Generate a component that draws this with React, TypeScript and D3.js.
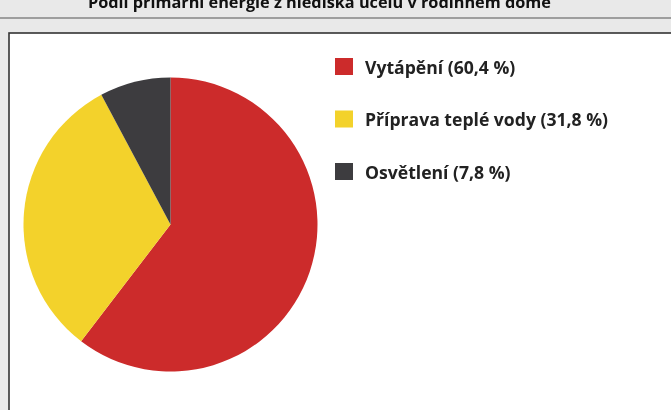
import React from "react";
import * as d3 from "d3";

const categories = ["Vytápění (60,4 %)", "Příprava teplé vody (31,8 %)", "Osvětlení (7,8 %)"];
const values = [60.4, 31.8, 7.8];
const colors = ["#cc2b2b", "#f3d22b", "#3d3c3f"];
const title = "Podíl primární energie z hlediska účelu v rodinném domě";

export default function App() {
  const W = 671, H = 410;
  const cx = 170.5, cy = 224.5, r = 147;
  const pie = d3.pie<number>().sort(null).value((d) => d)(values);
  const arc = d3.arc<d3.PieArcDatum<number>>().innerRadius(0).outerRadius(r);
  const legendY = d3.scalePoint<number>().domain(d3.range(categories.length)).range([67, 172]);
  return (
    <div style={{ position: "fixed", left: 0, top: 0 }}>
      <svg width={W} height={H} style={{ display: "block" }}>
        <rect x={0} y={0} width={W} height={H} fill="#e9e9e9" />
        <text x={88} y={8} fontFamily="Open Sans, sans-serif" fontWeight="bold" fontSize={16.3} fill="#111">{title}</text>
        <line x1={0} x2={W} y1={18} y2={18} stroke="#555" strokeWidth={1.2} />
        <rect x={9} y={33} width={W + 10} height={H} fill="#fff" stroke="#333" strokeWidth={1.6} />
        <g transform={`translate(${cx},${cy})`}>
          {pie.map((p, i) => (
            <path key={i} d={arc(p) || ""} fill={colors[i]} />
          ))}
        </g>
        {categories.map((c, i) => (
          <g key={c} transform={`translate(0,${legendY(i)})`}>
            <rect x={335} y={-9} width={18} height={17} fill={colors[i]} />
            <text x={365} y={6.5} fontFamily="Open Sans, sans-serif" fontWeight="bold" fontSize={17.6} fill="#222">{c}</text>
          </g>
        ))}
      </svg>
    </div>
  );
}
